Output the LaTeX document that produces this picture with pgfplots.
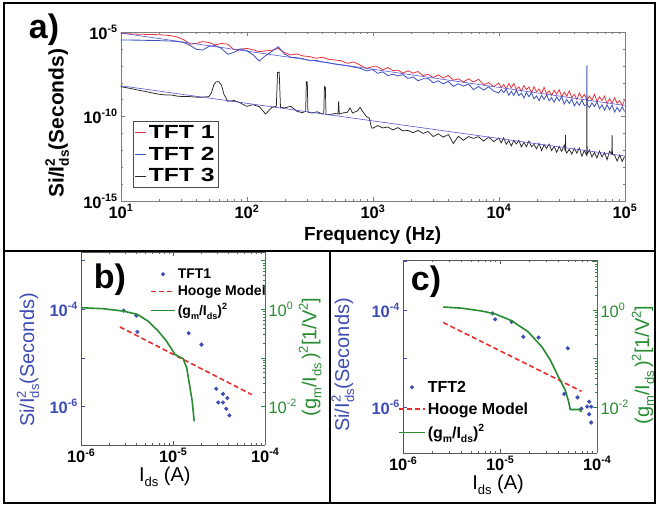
\documentclass[border=0pt]{standalone}
\usepackage{fontspec}
\setmainfont{Liberation Sans}
\usepackage{graphicx}
\usepackage{pgfplots}
\pgfplotsset{compat=1.18}

\definecolor{tftred}{RGB}{232,52,60}
\definecolor{tftblue}{RGB}{58,80,192}
\definecolor{fitblue}{RGB}{85,85,215}
\definecolor{axblue}{RGB}{62,76,180}
\definecolor{axgreen}{RGB}{40,140,50}
\definecolor{hooge}{RGB}{235,45,45}
\definecolor{boxgray}{RGB}{125,125,125}

\makeatletter
\newcommand{\shrink}{\edef\my@sz{\strip@pt\dimexpr0.65\dimexpr\f@size pt\relax\relax}\fontsize{\my@sz}{\my@sz}\selectfont}
\makeatother
\newcommand{\fs}[1]{\fontsize{#1}{#1}\selectfont}
\newcommand{\sups}[1]{\raisebox{0.42em}{\shrink #1}}
\newcommand{\sub}[1]{\raisebox{-0.25em}{\shrink #1}}
\newcommand{\Ids}{I\sub{ds}}
\newcommand{\SiI}{Si/I\rlap{\sups{2}}\sub{ds}(Seconds)}
\newcommand{\gm}{(g\sub{m}/I\sub{ds})\sups{2}}
\newcommand{\wide}[1]{\scalebox{1.3}[1]{#1}}

\pgfplotsset{
  hoogeline/.style={hooge, line width=1.6pt, dash pattern=on 5pt off 3pt},
  gmline/.style={axgreen, line width=1.6pt},
  tftdots/.style={only marks, mark=*, mark size=1.9pt, axblue},
}

\begin{document}
\begin{tikzpicture}
\useasboundingbox (0pt,0pt) rectangle (658pt,506pt);
\pgfplotsset{every axis/.append style={scale only axis, tick align=inside,
  major tick length=4pt, minor tick length=2pt}}

% ---- a) noise spectra
\begin{axis}[
  at={(120.7pt,305pt)}, anchor=south west,
  width=504pt, height=169pt,
  xmode=log, ymode=log,
  xmin=10, xmax=1e5, ymin=1e-15, ymax=1e-5,
  xtick={10,100,1000,10000,100000},
  xticklabels={10\sups{1},10\sups{2},10\sups{3},10\sups{4},10\sups{5}},
  ytick={1e-15,1e-10,1e-5},
  yticklabels={10\sups{-15},10\sups{-10},10\sups{-5}},
  minor ytick={1e-14,1e-13,1e-12,1e-11,1e-9,1e-8,1e-7,1e-6},
  axis line style={boxgray}, tick style={boxgray},
  tick label style={font=\bfseries\fs{16.5}, black},
  xlabel={Frequency (Hz)}, ylabel={\SiI},
  xlabel style={font=\bfseries\fs{19}, at={(axis description cs:0.5,-0.205)}, anchor=center},
  ylabel style={font=\bfseries\fs{21}, at={(axis description cs:-0.126,0.46)}, anchor=center},
  legend style={at={(0.024,0.473)}, anchor=north west, draw=black!70, fill=white,
    font=\bfseries\fs{19}, inner xsep=2pt, inner ysep=2pt, row sep=3pt, cells={anchor=west}},
  legend image code/.code={\draw[#1] (0pt,0pt) -- (11pt,0pt);},
]
\addplot[tftred, line width=0.8pt] coordinates {
(10,8.3e-6) (11.22,7.9e-6) (12.59,7.6e-6) (14.13,7.4e-6) (15.85,7.2e-6) (17.78,7.1e-6) (19.95,6.9e-6) (22.39,6.6e-6) (25.12,6.0e-6) (28.18,5.0e-6) (31.62,3.5e-6) (35.48,1.9e-6) (39.81,2.1e-6) (44.67,2.7e-6) (50.12,2.4e-6) (56.23,1.7e-6) (63.10,2.1e-6) (70.79,1.9e-6) (79.43,8.9e-7) (89.13,9.5e-7) (100,1.07e-6) (112.2,8.9e-7) (125.9,6.8e-7) (141.3,7.6e-7) (158.5,8.3e-7) (177.8,1.07e-6) (199.5,6.0e-7) (223.9,4.4e-7) (251.2,5.0e-7) (281.8,3.8e-7) (316.2,3.5e-7) (354.8,2.8e-7) (398.1,3.2e-7) (446.7,2.4e-7) (501.2,2.2e-7) (562.3,2.0e-7) (631,1.4e-7) (707.9,1.7e-7) (794.3,1.1e-7) (891.3,7.1e-8) (1000,8.9e-8)
(1096,8.7e-8) (1202,5.7e-8) (1318,7.9e-8) (1445,5.2e-8) (1585,5.5e-8) (1738,3.7e-8) (1905,5.1e-8) (2089,3.7e-8) (2291,4.6e-8) (2512,2.6e-8) (2754,3.2e-8) (3020,2.0e-8) (3311,2.9e-8) (3631,1.9e-8) (3981,2.7e-8) (4365,1.4e-8) (4786,1.7e-8) (5248,1.1e-8) (5754,1.7e-8) (6310,1.1e-8) (6918,1.6e-8) (7586,7.7e-9) (8318,1.0e-8) (9120,5.8e-9)
(10000,9.55e-9) (10470,5.24e-9) (10960,7.91e-9) (11480,4.35e-9) (12020,8.85e-9) (12590,4.97e-9) (13180,9.02e-9) (13800,4.11e-9) (14450,5.68e-9) (15140,3.11e-9) (15850,6.79e-9) (16600,3.90e-9) (17380,5.62e-9) (18200,2.45e-9) (19050,5.87e-9) (19950,2.94e-9) (20890,4.24e-9) (21880,2.32e-9) (22910,5.32e-9) (23990,2.21e-9) (25120,3.27e-9) (26300,1.75e-9) (27540,3.65e-9) (28840,2.10e-9) (30200,3.81e-9) (31620,1.51e-9) (33110,2.75e-9) (34670,1.58e-9) (36310,3.30e-9) (38020,1.31e-9) (39810,2.07e-9) (41690,1.04e-9) (43650,2.48e-9) (45710,1.24e-9) (47860,2.06e-9) (50120,8.95e-10) (52480,1.63e-9) (54950,9.33e-10) (57540,2.04e-9) (60260,7.74e-10) (63100,1.47e-9) (66070,8.85e-10) (69180,1.61e-9) (72440,5.83e-10) (75860,1.16e-9) (79430,6.08e-10) (83180,1.27e-9) (87100,6.05e-10) (91200,8.75e-10) (95500,4.58e-10) (100000,9.55e-10)
};
\addlegendentry{\wide{TFT 1}}
\addplot[tftblue, line width=0.8pt] coordinates {
(10,3.4e-6) (11.22,3.4e-6) (12.59,3.3e-6) (14.13,3.3e-6) (15.85,3.2e-6) (17.78,3.2e-6) (19.95,3.1e-6) (22.39,3.0e-6) (25.12,2.9e-6) (28.18,2.75e-6) (31.62,2.4e-6) (35.48,1.6e-6) (39.81,9.5e-7) (44.67,8.5e-7) (50.12,1.4e-6) (56.23,1.6e-6) (63.10,1.05e-6) (70.79,4.8e-7) (79.43,6.3e-7) (89.13,1.0e-6) (100,7.9e-7) (112.2,4.5e-7) (125.9,1.9e-7) (141.3,4.0e-7) (158.5,7.1e-7) (177.8,1.35e-6) (199.5,5.0e-7) (223.9,3.2e-7) (251.2,3.0e-7) (281.8,2.6e-7) (316.2,2.0e-7) (354.8,2.1e-7) (398.1,1.7e-7) (446.7,1.5e-7) (501.2,1.26e-7) (562.3,1.12e-7) (631,1.0e-7) (707.9,8.3e-8) (794.3,7.1e-8) (891.3,5.0e-8) (1000,6.0e-8)
(1096,3.6e-8) (1202,4.4e-8) (1318,2.6e-8) (1445,3.2e-8) (1585,2.5e-8) (1738,3.0e-8) (1905,1.8e-8) (2089,2.2e-8) (2291,1.3e-8) (2512,1.7e-8) (2754,1.75e-8) (3020,9.9e-9) (3311,1.3e-8) (3631,8.6e-9) (3981,1.2e-8) (4365,6.1e-9) (4786,8.7e-9) (5248,6.3e-9) (5754,8.3e-9) (6310,3.9e-9) (6918,6.0e-9) (7586,3.6e-9) (8318,5.8e-9) (9120,3.2e-9)
(10000,2.51e-9) (10470,3.95e-9) (10960,2.60e-9) (11480,4.09e-9) (12020,1.78e-9) (12590,3.07e-9) (13180,1.75e-9) (13800,3.65e-9) (14450,1.73e-9) (15140,2.38e-9) (15850,1.24e-9) (16600,2.58e-9) (17380,1.48e-9) (18200,2.55e-9) (19050,1.11e-9) (19950,1.66e-9) (20890,8.67e-10) (21880,1.80e-9) (22910,1.03e-9) (23990,1.95e-9) (25120,8.47e-10) (26300,1.33e-9) (27540,6.97e-10) (28840,1.45e-9) (30200,8.28e-10) (31620,1.50e-9) (33110,5.40e-10) (34670,1.02e-9) (36310,5.85e-10) (38020,1.11e-9) (39810,4.19e-10) (41690,7.57e-10) (43650,4.54e-10) (45710,9.42e-10) (47860,4.49e-10) (49900,5.0e-10) (50120,1.1e-7) (50350,5.0e-10) (52480,3.36e-10) (54950,6.37e-10) (57540,3.81e-10) (60260,7.23e-10) (63100,2.86e-10) (66070,4.93e-10) (69180,2.35e-10) (72440,4.88e-10) (75860,2.55e-10) (79430,4.82e-10) (83180,1.82e-10) (87100,3.45e-10) (91200,1.97e-10) (95500,3.74e-10) (100000,1.95e-10)
};
\addlegendentry{\wide{TFT 2}}
\addplot[black!85, line width=0.75pt] coordinates {
(10,5.8e-9) (11.22,5.0e-9) (12.59,4.2e-9) (14.13,3.5e-9) (15.85,3.0e-9) (17.78,2.5e-9) (19.95,2.1e-9) (22.39,1.9e-9) (25.12,1.9e-9) (28.18,1.6e-9) (31.62,1.5e-9) (35.48,1.5e-9) (39.81,1.4e-9) (44.67,1.4e-9) (50.12,1.5e-9) (52.5,2.5e-9) (55.0,7.9e-9) (57.5,1.15e-8) (60.3,1.12e-8) (63.1,7.1e-9) (66.1,2.0e-9) (70.79,7.9e-10) (79.43,8.9e-10) (89.13,6.3e-10) (100,4.0e-10) (112.2,5.0e-10) (125.9,3.8e-10) (141.3,1.4e-10) (158.5,3.5e-10) (171.8,4.0e-10) (175.8,4.0e-8) (181.1,4.2e-8) (185.4,3.5e-10) (199.5,3.2e-10) (223.9,4.0e-10) (251.2,2.0e-10) (275,1.7e-10) (293.8,2.0e-10) (297.2,1.15e-8) (302.7,1.1e-8) (306.2,1.8e-10) (331,1.6e-10) (363,1.9e-10) (398,1.4e-10) (409,1.6e-10) (414,5.8e-9) (421,5.5e-9) (426,1.3e-10) (457,1.3e-10) (501,1.5e-10) (530,1.4e-10) (537,7.9e-10) (543,1.4e-10) (575,1.6e-10) (631,1.8e-10) (661,3.2e-10) (692,1.6e-10) (759,2.2e-10) (794,3.5e-10) (832,2.0e-10) (891,1.0e-10) (940,8.0e-11) (977,2.2e-11) (1000,2.0e-11)
(1096,2.9e-11) (1202,2.1e-11) (1318,2.4e-11) (1445,1.6e-11) (1585,2.2e-11) (1738,1.4e-11) (1905,1.5e-11) (2089,1.1e-11) (2291,1.5e-11) (2512,1.0e-11) (2754,1.3e-11) (3020,6.5e-12) (3311,9.5e-12) (3631,6.0e-12) (3981,8.6e-12) (4365,2.5e-12) (4786,6.8e-12) (5248,3.9e-12) (5754,6.5e-12) (6310,5.1e-12) (6918,6.4e-12) (7586,3.5e-12) (8318,6.1e-12) (9120,3.3e-12)
(10000,5.25e-12) (10470,2.75e-12) (10960,5.47e-12) (11480,2.28e-12) (12020,3.78e-12) (12590,1.80e-12) (13180,3.76e-12) (13800,2.37e-12) (14450,3.93e-12) (15140,1.56e-12) (15850,2.96e-12) (16600,1.63e-12) (17380,3.55e-12) (18200,1.62e-12) (19050,2.23e-12) (19950,1.22e-12) (20890,2.55e-12) (21880,9.68e-13) (22910,2.12e-12) (23990,1.27e-12) (25120,2.31e-12) (26300,9.62e-13) (27540,1.67e-12) (28840,7.62e-13) (30200,1.66e-12) (31620,8.71e-13) (33110,1.90e-12) (33700,9.0e-13) (33900,8.0e-12) (34100,9.0e-13) (34670,6.89e-13) (36310,1.14e-12) (38020,5.98e-13) (39810,1.31e-12) (41690,6.84e-13) (43650,1.36e-12) (45710,4.51e-13) (47860,9.84e-13) (49900,5.0e-13) (50120,1.2e-9) (50350,6.0e-13) (52480,1.03e-12) (54950,4.07e-13) (57540,7.41e-13) (60260,3.54e-13) (63100,8.87e-13) (66070,4.05e-13) (69180,7.35e-13) (72440,2.79e-13) (75860,8.81e-13) (79000,6.0e-13) (79430,8.0e-12) (79900,6.0e-13) (83180,5.05e-13) (87100,2.30e-13) (91200,5.27e-13) (95500,2.19e-13) (100000,4.37e-13)
};
\addlegendentry{\wide{TFT 3}}
\addplot[fitblue, line width=0.6pt, forget plot] coordinates {(10,8.7e-6) (100000,4.5e-10)};
\addplot[fitblue, line width=0.6pt, forget plot] coordinates {(10,6.6e-9) (100000,4.6e-13)};
\end{axis}

% ---- b) left axis
\begin{axis}[
  at={(81pt,61pt)}, anchor=south west, width=184pt, height=193pt,
  xmode=log, ymode=log, xmin=1e-6, xmax=1e-4, ymin=1.6e-7, ymax=1.5e-3,
  axis x line*=box, axis y line*=left,
  x axis line style={black!65}, y axis line style={axblue},
  xtick={1e-6,1e-5,1e-4}, xticklabels={10\sups{-6},10\sups{-5},10\sups{-4}},
  ytick={1e-7,1e-6,1e-5,1e-4,1e-3}, yticklabels={,10\sups{-6},,10\sups{-4},},
  yminorticks=false,
  xtick style={black!65}, ytick style={axblue},
  xticklabel style={font=\bfseries\fs{16.5}},
  yticklabel style={font=\bfseries\fs{16.5}, axblue},
  xlabel={\Ids\ (A)}, ylabel={\SiI},
  xlabel style={font=\fs{20}, at={(axis description cs:0.456,-0.166)}, anchor=center},
  ylabel style={font=\fs{20}, axblue, at={(axis description cs:-0.288,0.44)}, anchor=center},
  legend style={at={(0.375,0.925)}, anchor=north west, draw=none, fill=none,
    font=\bfseries\fs{14}, inner sep=0pt, row sep=2pt, cells={anchor=west}},
  legend image code/.code={\draw[mark repeat=2,mark phase=2,#1] plot coordinates {(0pt,0pt) (12pt,0pt) (24pt,0pt)};},
]
\addplot[tftdots] coordinates {
(2.9e-6,9.3e-5) (4.0e-6,7.4e-5) (4.1e-6,3.4e-5) (1.48e-5,3.2e-5) (2.04e-5,1.86e-5) (2.95e-5,2.3e-6) (3.5e-5,1.8e-6) (3.1e-5,1.2e-6) (3.5e-5,1.2e-6) (3.9e-5,1.48e-6) (3.8e-5,8.9e-7) (4.1e-5,6.5e-7)
};
\addlegendentry{TFT1}
\addplot[hoogeline] coordinates {(2.65e-6,4.3e-5) (7.2e-5,1.74e-6)};
\addlegendentry{Hooge Model}
\addlegendimage{gmline}
\addlegendentry{\gm}
\end{axis}
% ---- b) right axis
\begin{axis}[
  at={(81pt,61pt)}, anchor=south west, width=184pt, height=193pt,
  xmode=log, ymode=log, xmin=1e-6, xmax=1e-4, ymin=1.6e-3, ymax=15,
  hide x axis, axis y line*=right, y axis line style={axgreen},
  ytick={1e-2,1e-1,1,10}, yticklabels={10\sups{-2},,10\sups{0},},
  ytick style={axgreen}, yticklabel pos=right,
  yticklabel style={font=\fs{16.5}, axgreen},
  ylabel={(g\sub{m}/I\sub{ds}\,)\sups{2}[1/V\sups{2}]},
  ylabel style={font=\fs{20}, axgreen, at={(axis description cs:1.245,0.456)}, anchor=center},
]
\addplot[gmline] coordinates {
(1e-6,1.07) (1.74e-6,1.02) (2.9e-6,0.91) (4.1e-6,0.78) (5.4e-6,0.56) (6.9e-6,0.355) (8.5e-6,0.22) (1.05e-5,0.117) (1.29e-5,0.095) (1.41e-5,0.062) (1.51e-5,0.028) (1.62e-5,0.0126) (1.7e-5,0.0049)
};
\end{axis}

% ---- c) left axis
\begin{axis}[
  at={(403pt,53pt)}, anchor=south west, width=194pt, height=193pt,
  xmode=log, ymode=log, xmin=1e-6, xmax=1e-4, ymin=1.13e-7, ymax=1.07e-3,
  axis x line*=box, axis y line*=left,
  x axis line style={black!65}, y axis line style={axblue},
  xtick={1e-6,1e-5,1e-4}, xticklabels={10\sups{-6},10\sups{-5},10\sups{-4}},
  ytick={1e-7,1e-6,1e-5,1e-4,1e-3}, yticklabels={,10\sups{-6},,10\sups{-4},},
  yminorticks=false,
  xtick style={black!65}, ytick style={axblue},
  xticklabel style={font=\bfseries\fs{16.5}},
  yticklabel style={font=\bfseries\fs{16.5}, axblue},
  xlabel={\Ids\ (A)}, ylabel={\SiI},
  xlabel style={font=\fs{20}, at={(axis description cs:0.49,-0.166)}, anchor=center},
  ylabel style={font=\fs{20}, axblue, at={(axis description cs:-0.31,0.456)}, anchor=center},
  legend style={at={(-0.026,0.385)}, anchor=north west, draw=none, fill=none,
    font=\bfseries\fs{16}, inner sep=0pt, row sep=5pt, cells={anchor=west}},
  legend image code/.code={\draw[mark repeat=2,mark phase=2,#1] plot coordinates {(0pt,0pt) (13pt,0pt) (26pt,0pt)};},
]
\addplot[tftdots] coordinates {
(8.4e-6,8.5e-5) (8.9e-6,6.4e-5) (1.32e-5,5.7e-5) (1.74e-5,2.8e-5) (2.5e-5,2.7e-5) (5.0e-5,1.62e-5) (4.6e-5,1.86e-6) (6.3e-5,1.58e-6) (6.9e-5,9.3e-7) (7.9e-5,1.02e-6) (8.3e-5,1.29e-6) (8.7e-5,1.02e-6) (8.3e-5,7.1e-7) (8.7e-5,4.8e-7)
};
\addlegendentry{TFT2}
\addplot[hoogeline] coordinates {(2.6e-6,5.5e-5) (6.95e-5,2.1e-6)};
\addlegendentry{Hooge Model}
\addlegendimage{gmline}
\addlegendentry{\gm}
\end{axis}
% ---- c) right axis
\begin{axis}[
  at={(403pt,53pt)}, anchor=south west, width=194pt, height=193pt,
  xmode=log, ymode=log, xmin=1e-6, xmax=1e-4, ymin=1.13e-3, ymax=10.7,
  hide x axis, axis y line*=right, y axis line style={axgreen},
  ytick={1e-2,1e-1,1,10}, yticklabels={10\sups{-2},,10\sups{0},},
  ytick style={axgreen}, yticklabel pos=right,
  yticklabel style={font=\fs{16.5}, axgreen},
  ylabel={(g\sub{m}/I\sub{ds}\,)\sups{2}[1/V\sups{2}]},
  ylabel style={font=\fs{20}, axgreen, at={(axis description cs:1.237,0.456)}, anchor=center},
]
\addplot[gmline] coordinates {
(2.6e-6,1.15) (4.0e-6,1.09) (6.5e-6,0.95) (8.9e-6,0.83) (1.32e-5,0.60) (1.95e-5,0.355) (2.7e-5,0.174) (3.3e-5,0.093) (4.0e-5,0.042) (4.7e-5,0.0224) (5.1e-5,0.0129) (5.3e-5,0.0089) (6.6e-5,0.0089) (6.9e-5,0.0079)
};
\end{axis}

% panel frames and letters
\draw[line width=2.5pt] (4pt,3pt) rectangle (655pt,503pt);
\draw[line width=2.5pt] (4pt,255pt) -- (655pt,255pt);
\draw[line width=2.5pt] (330pt,3pt) -- (330pt,255pt);
\node[font=\bfseries\fs{34}] at (44pt,476pt) {a)};
\node[font=\bfseries\fs{34}] at (110pt,226pt) {b)};
\node[font=\bfseries\fs{34}] at (426pt,224pt) {c)};
\end{tikzpicture}
\end{document}
